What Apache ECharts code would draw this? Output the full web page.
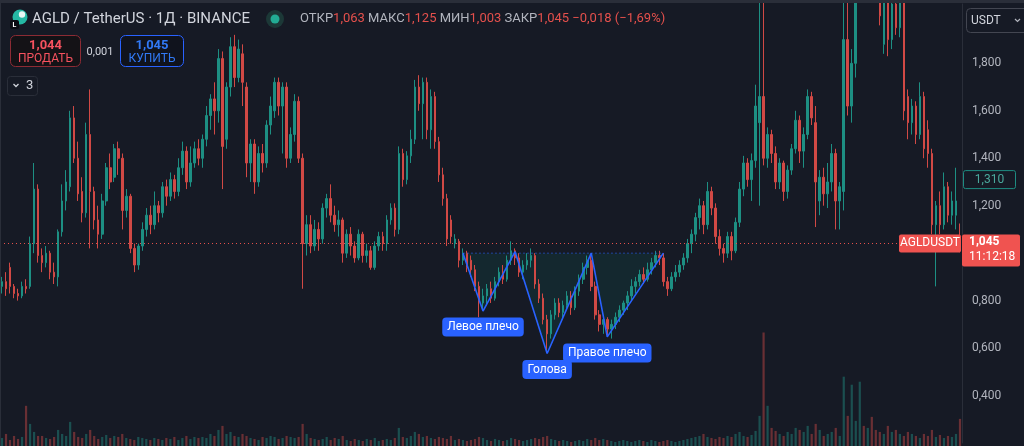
<!DOCTYPE html>
<html><head><meta charset="utf-8">
<script src="https://cdn.jsdelivr.net/npm/echarts/dist/echarts.min.js"></script>
<style>html,body{margin:0;padding:0;background:#161a25;overflow:hidden}#c{width:1024px;height:446px}</style>
</head><body><div id="c"></div>
<script>
// ---- data: daily candles [open, close, low, high] ----
const ohlc = [
[0.86,0.88,0.83,0.90],[0.88,0.85,0.82,0.92],[0.94,0.86,0.83,0.96],[0.86,0.83,0.81,0.87],[0.83,0.82,0.80,0.85],
[0.82,0.86,0.81,0.88],[0.86,0.85,0.83,0.89],[0.86,1.04,0.85,1.07],[1.04,1.27,1.00,1.38],[1.27,0.99,0.96,1.29],
[0.99,0.96,0.92,1.02],[0.96,1.00,0.94,1.03],[1.00,0.92,0.89,1.01],[0.92,0.90,0.87,0.96],[0.90,1.09,0.86,1.10],
[1.09,1.22,1.07,1.29],[1.22,1.30,1.18,1.35],[1.28,1.57,1.26,1.60],[1.57,1.40,1.38,1.62],[1.40,1.25,1.22,1.47],
[1.26,1.17,1.13,1.32],[1.17,1.50,1.15,1.55],[1.50,1.26,1.02,1.69],[1.26,1.14,1.10,1.28],[1.14,1.08,1.02,1.20],
[1.08,1.22,1.06,1.25],[1.22,1.36,1.20,1.38],[1.36,1.30,1.27,1.42],[1.32,1.44,1.30,1.46],[1.44,1.40,1.33,1.47],
[1.40,1.18,1.10,1.42],[1.18,1.24,1.15,1.27],[1.24,1.02,1.00,1.25],[1.02,0.95,0.92,1.04],[0.95,1.03,0.93,1.04],
[1.03,1.10,1.01,1.13],[1.10,1.16,1.07,1.19],[1.16,1.12,1.08,1.20],[1.12,1.20,1.10,1.26],[1.20,1.17,1.13,1.22],
[1.17,1.28,1.15,1.30],[1.28,1.24,1.20,1.31],[1.24,1.31,1.22,1.34],[1.31,1.26,1.23,1.33],[1.26,1.36,1.24,1.40],
[1.36,1.43,1.33,1.47],[1.43,1.30,1.27,1.45],[1.30,1.38,1.28,1.45],[1.38,1.44,1.36,1.47],[1.44,1.40,1.37,1.48],
[1.40,1.48,1.36,1.50],[1.48,1.58,1.45,1.62],[1.58,1.65,1.52,1.67],[1.65,1.60,1.50,1.72],[1.60,1.82,1.55,1.86],
[1.82,1.45,1.27,1.85],[1.48,1.70,1.44,1.72],[1.70,1.87,1.66,1.91],[1.87,1.74,1.70,1.92],[1.74,1.86,1.72,1.90],
[1.84,1.72,1.62,1.88],[1.70,1.38,1.32,1.72],[1.38,1.46,1.30,1.48],[1.46,1.30,1.25,1.48],[1.30,1.42,1.28,1.45],
[1.42,1.38,1.34,1.46],[1.38,1.54,1.36,1.56],[1.54,1.62,1.50,1.66],[1.60,1.72,1.57,1.74],[1.72,1.62,1.58,1.74],
[1.62,1.70,1.42,1.72],[1.70,1.40,1.36,1.72],[1.40,1.50,1.38,1.53],[1.50,1.64,1.47,1.67],[1.64,1.40,1.38,1.66],
[1.40,1.04,0.85,1.42],[1.04,1.12,0.99,1.16],[1.12,1.03,1.00,1.16],[1.03,1.10,1.01,1.14],[1.10,1.06,1.01,1.13],
[1.06,1.19,1.04,1.21],[1.19,1.23,1.15,1.25],[1.23,1.16,1.13,1.29],[1.16,1.12,1.09,1.20],[1.12,1.14,1.07,1.18],
[1.14,1.00,0.96,1.15],[1.00,1.08,0.98,1.10],[1.08,1.03,0.99,1.11],[1.03,0.98,0.96,1.05],[0.98,1.08,0.97,1.10],
[1.08,0.99,0.96,1.09],[0.99,1.01,0.96,1.04],[1.01,0.94,0.93,1.03],[0.94,1.03,0.93,1.05],[1.03,1.07,1.01,1.09],
[1.07,1.04,1.01,1.09],[1.04,1.14,1.01,1.16],[1.14,1.19,1.12,1.21],[1.19,1.10,1.07,1.21],[1.10,1.42,1.08,1.45],
[1.42,1.31,1.28,1.44],[1.31,1.41,1.29,1.43],[1.41,1.48,1.38,1.52],[1.48,1.70,1.46,1.73],[1.70,1.63,1.60,1.75],
[1.63,1.72,1.48,1.74],[1.72,1.52,1.48,1.74],[1.52,1.66,1.44,1.69],[1.66,1.47,1.44,1.68],[1.47,1.33,1.30,1.49],
[1.33,1.23,1.20,1.36],[1.23,1.06,1.03,1.25],[1.14,1.07,1.04,1.16],[1.04,1.06,1.02,1.08],[1.05,0.97,0.94,1.06],
[0.97,1.00,0.95,1.02],[1.00,0.94,0.92,1.01],[0.97,0.93,0.90,0.99],[0.93,0.86,0.84,0.95],[0.86,0.80,0.73,0.88],
[0.79,0.82,0.76,0.85],[0.82,0.85,0.78,0.87],[0.85,0.81,0.79,0.88],[0.81,0.88,0.80,0.90],[0.88,0.92,0.86,0.94],
[0.92,0.89,0.87,0.95],[0.89,0.97,0.88,0.99],[0.97,1.01,0.95,1.05],[1.01,0.98,0.95,1.02],[0.98,0.92,0.90,1.00],
[0.92,0.95,0.89,0.97],[0.95,0.97,0.93,1.00],[0.97,0.99,0.94,1.02],[0.99,0.87,0.85,1.00],[0.87,0.81,0.79,0.89],
[0.81,0.72,0.70,0.83],[0.72,0.66,0.58,0.74],[0.66,0.74,0.64,0.76],[0.74,0.79,0.72,0.81],[0.79,0.75,0.73,0.81],
[0.75,0.78,0.72,0.80],[0.78,0.82,0.76,0.84],[0.82,0.77,0.74,0.84],[0.77,0.84,0.76,0.86],[0.84,0.89,0.82,0.91],
[0.89,0.94,0.87,0.96],[0.94,0.97,0.91,0.99],[0.97,0.86,0.84,0.99],[0.86,0.74,0.72,0.88],[0.74,0.70,0.67,0.76],
[0.70,0.72,0.66,0.74],[0.72,0.68,0.65,0.73],[0.68,0.70,0.64,0.72],[0.70,0.73,0.68,0.75],[0.73,0.76,0.71,0.78],
[0.76,0.79,0.74,0.80],[0.79,0.82,0.76,0.84],[0.82,0.86,0.80,0.89],[0.86,0.88,0.83,0.90],[0.88,0.91,0.86,0.93],
[0.91,0.89,0.87,0.94],[0.89,0.93,0.88,0.96],[0.93,0.96,0.91,0.98],[0.96,0.99,0.94,1.01],[0.99,0.98,0.95,1.01],
[0.98,0.88,0.86,1.00],[0.88,0.85,0.82,0.90],[0.85,0.90,0.84,0.92],[0.90,0.92,0.88,0.95],[0.92,0.95,0.90,0.97],
[0.95,0.98,0.93,1.00],[0.98,1.04,0.96,1.06],[1.04,1.08,1.00,1.10],[1.08,1.15,1.05,1.17],[1.15,1.20,1.10,1.23],
[1.20,1.12,1.08,1.22],[1.12,1.26,1.10,1.30],[1.26,1.19,1.16,1.28],[1.19,1.07,1.04,1.21],[1.07,1.02,0.99,1.10],
[1.02,1.00,0.96,1.04],[1.00,1.07,0.98,1.09],[1.07,1.01,0.97,1.09],[1.01,1.13,1.00,1.15],[1.13,1.27,1.11,1.30],
[1.27,1.38,1.24,1.41],[1.38,1.31,1.28,1.40],[1.31,1.39,1.22,1.42],[1.39,1.62,1.36,1.71],[1.55,1.66,1.20,2.10],
[1.66,1.40,1.37,2.08],[1.40,1.50,1.36,1.53],[1.50,1.42,1.38,1.52],[1.42,1.30,1.27,1.45],[1.30,1.38,1.27,1.40],
[1.38,1.26,1.22,1.39],[1.26,1.35,1.23,1.37],[1.35,1.44,1.33,1.46],[1.44,1.56,1.42,1.60],[1.56,1.43,1.38,1.58],
[1.43,1.50,1.36,1.53],[1.50,1.66,1.48,1.69],[1.66,1.57,1.54,1.68],[1.55,1.30,1.11,1.62],[1.22,1.32,1.16,1.35],
[1.32,1.25,1.20,1.36],[1.25,1.30,1.19,1.38],[1.30,1.42,1.26,1.46],[1.42,1.22,1.10,1.44],[1.22,1.28,1.10,1.30],
[1.26,1.90,1.18,2.10],[1.90,1.62,1.58,2.10],[1.62,1.80,1.55,1.86],[1.80,2.10,1.74,2.25],[2.10,2.25,2.08,2.35],
[2.25,2.18,2.10,2.40],[2.18,2.30,2.12,2.45],[2.30,2.22,2.12,2.38],[2.22,2.15,2.08,2.30],[2.15,2.00,1.96,2.25],
[1.88,2.08,1.84,2.20],[2.08,1.90,1.83,2.15],[1.90,2.05,1.86,2.12],[2.05,1.95,1.92,2.10],[1.95,2.06,1.91,2.12],
[2.06,1.60,1.56,2.10],[1.66,1.55,1.48,1.69],[1.55,1.62,1.50,1.65],[1.62,1.50,1.46,1.64],[1.50,1.66,1.48,1.72],
[1.66,1.44,1.40,1.68],[1.52,1.42,1.36,1.56],[1.42,1.12,1.08,1.44],[1.12,1.20,0.86,1.22],[1.20,1.12,1.08,1.26],
[1.12,1.28,1.10,1.34],[1.28,1.16,1.13,1.30],[1.16,1.22,1.12,1.26],[1.16,1.22,1.10,1.36],[1.063,1.045,1.003,1.125]
];
const volumes = [
8,12,6,10,7,9,40,22,14,10, 10,8,7,9,16,12,10,24,14,9, 8,12,16,10,7,9,11,8,10,9, 12,8,7,6,9,8,7,6,8,7,
6,8,7,9,6,8,10,7,9,8, 9,8,12,10,16,20,12,14,10,9, 12,10,8,7,6,9,8,10,9,7, 8,10,9,8,9,22,12,8,7,6,
7,9,6,8,7,10,6,5,7,6, 5,7,6,8,5,6,7,6,8,18, 9,8,10,14,12,9,10,8,7,9, 8,7,10,6,7,6,5,6,7,9,
8,6,5,7,6,5,6,8,7,6, 5,6,7,8,7,9,10,7,6,5, 6,5,4,5,6,5,7,6,8,6, 7,6,5,4,5,6,5,4,5,6,
5,4,6,5,4,5,6,5,4,5, 6,7,8,9,10,12,9,8,7,9, 8,10,9,12,14,10,9,11,15,30, 113,40,18,15,12,10,14,12,18,16,
14,20,12,22,16,10,12,14,18,10, 69,30,61,25,64,20,18,29,16,14, 12,20,14,16,12,10,14,12,10,8, 12,10,16,9,11,8,10,9,12,27
];
// inverse head & shoulders pattern (candle index, price)
const patternIdx = [115, 120, 128, 136, 147, 151, 165];
const patternPrice = [1.00, 0.756, 1.006, 0.577, 1.00, 0.647, 1.00];
const patternLabels = ['', 'Левое плечо', '', 'Голова', '', 'Правое плечо', ''];
const neckline = 1.00;
// price axis ticks
const yMin = 0.2, yMax = 2.05, yStep = 0.2;
// quote info
const symbolTitle = 'AGLD / TetherUS · 1Д · BINANCE';
const bidPrice = 1.044, askPrice = 1.045, spread = 0.001;
const markerPrice = 1.31;
const countdown = '11:12:18';
const tickerName = 'AGLDUSDT';

const FONT = 'Roboto, "Noto Sans", sans-serif';
const UP = '#1d8f83', DOWN = '#d14945';
const fmt = v => v.toFixed(3).replace('.', ',');
const cats = ohlc.map((_, i) => String(i));
const last = ohlc[ohlc.length - 1];

const chart = echarts.init(document.getElementById('c'));
chart.setOption({
  backgroundColor: '#161a25',
  animation: false,
  grid: [
    { left: 0, right: 62, top: 4, bottom: 3 },
    { left: 0, right: 62, top: 4, bottom: 0 }
  ],
  xAxis: [
    { type: 'category', data: cats, gridIndex: 0, show: false, boundaryGap: true },
    { type: 'category', data: cats, gridIndex: 1, show: false, boundaryGap: true }
  ],
  yAxis: [
    { type: 'value', gridIndex: 0, position: 'right', min: yMin, max: yMax, interval: yStep,
      axisLine: { show: true, lineStyle: { color: '#2a2e39' } }, axisTick: { show: false },
      splitLine: { show: false },
      axisLabel: { color: '#b2b5be', fontSize: 12, fontFamily: FONT, margin: 10,
        showMinLabel: false, showMaxLabel: false, formatter: fmt } },
    { type: 'value', gridIndex: 1, min: 0, max: 440, show: false, splitLine: { show: false } }
  ],
  series: [
    { type: 'bar', xAxisIndex: 1, yAxisIndex: 1, barWidth: '55%', silent: true, z: 1,
      data: volumes.map((v, i) => ({ value: v, itemStyle: { color: ohlc[i][1] >= ohlc[i][0] ? 'rgba(34,160,144,0.4)' : 'rgba(229,80,76,0.4)' } })) },
    { type: 'line', xAxisIndex: 0, yAxisIndex: 0, silent: true, z: 1, symbol: 'none',
      data: patternIdx.map((x, k) => [x, patternPrice[k]]),
      lineStyle: { width: 0 }, areaStyle: { origin: neckline, color: 'rgba(8,153,129,0.17)' } },
    { type: 'candlestick', xAxisIndex: 0, yAxisIndex: 0, barWidth: '52%', z: 2, clip: true,
      data: ohlc,
      itemStyle: { color: UP, color0: DOWN, borderColor: UP, borderColor0: DOWN, borderWidth: 1 },
      markLine: { silent: true, symbol: 'none', animation: false,
        lineStyle: { type: [1, 3], color: '#e5504c', width: 1 }, label: { show: false },
        data: [{ yAxis: last[1] }] } },
    { type: 'line', xAxisIndex: 0, yAxisIndex: 0, silent: true, z: 4, symbol: 'none',
      data: [[patternIdx[0], neckline], [patternIdx[patternIdx.length - 1], neckline]],
      lineStyle: { type: [2, 2], color: 'rgba(41,98,255,0.55)', width: 1 } },
    { type: 'line', xAxisIndex: 0, yAxisIndex: 0, silent: true, z: 5,
      symbol: 'circle', symbolSize: 1, showSymbol: true,
      itemStyle: { color: 'rgba(0,0,0,0)' },
      lineStyle: { color: '#2962ff', width: 1.6 },
      data: patternIdx.map((x, k) => ({
        value: [x, patternPrice[k]],
        label: patternLabels[k] ? {
          show: true, position: 'bottom', distance: 6, formatter: patternLabels[k],
          color: '#ffffff', fontSize: 12, fontFamily: FONT, backgroundColor: '#2962ff',
          padding: [3, 5, 3, 5], borderRadius: 4, lineHeight: 13
        } : { show: false }
      })) }
  ]
});

const py = chart.convertToPixel({ yAxisIndex: 0 }, last[1]);
const my = chart.convertToPixel({ yAxisIndex: 0 }, markerPrice);
const chg = last[1] - last[0];
const pct = chg / last[0] * 100;
const sgn = (v, d) => (v < 0 ? '−' : '+') + Math.abs(v).toFixed(d).replace('.', ',');
const g = [];
const t = (x, y, text, fill, font, align, z) => ({ type: 'text', x, y, z: z || 110,
  style: { text, fill, font, align: align || 'left', verticalAlign: 'middle' } });
g.push({ type: 'rect', z: 100, shape: { x: 0, y: 0, width: 1024, height: 3 }, style: { fill: '#2a2e39' } });
g.push({ type: 'rect', z: 100, shape: { x: 0, y: 3, width: 1, height: 443 }, style: { fill: '#2a2e39' } });
// logo
g.push({ type: 'circle', z: 100, shape: { cx: 20, cy: 17, r: 7.5 }, style: { fill: '#25b8a4' } });
g.push({ type: 'circle', z: 101, shape: { cx: 22, cy: 14.5, r: 3.2 }, style: { fill: '#e9f7f4' } });
g.push({ type: 'rect', z: 102, shape: { x: 10, y: 20, width: 9, height: 9, r: 2 }, style: { fill: '#0b0d13' } });
g.push(t(14.5, 24.8, 'L', '#ffffff', 'bold 7px ' + FONT, 'center', 103));
g.push(t(32, 19, symbolTitle, '#d1d4dc', '15px ' + FONT));
g.push({ type: 'circle', z: 100, shape: { cx: 275, cy: 19, r: 9 }, style: { fill: '#1c3837' } });
g.push({ type: 'circle', z: 101, shape: { cx: 275, cy: 19, r: 4.5 }, style: { fill: '#22ab94' } });
g.push({ type: 'text', x: 300, y: 19, z: 110, style: {
  text: `{g|ОТКР}{r|${fmt(last[0])}} {g|МАКС}{r|${fmt(last[3])}} {g|МИН}{r|${fmt(last[2])}} {g|ЗАКР}{r|${fmt(last[1])}} {r|${sgn(chg, 3)} (${sgn(pct, 2)}%)}`,
  verticalAlign: 'middle', font: '13px ' + FONT,
  rich: { g: { fill: '#b2b5be', font: '13px ' + FONT }, r: { fill: '#e5504c', font: '13px ' + FONT } } } });
// sell / buy
g.push({ type: 'rect', z: 100, shape: { x: 10.5, y: 35.5, width: 70, height: 31, r: 5 }, style: { fill: '#141216', stroke: '#8c2b34', lineWidth: 1 } });
g.push(t(45.5, 45.5, fmt(bidPrice), '#f7525f', 'bold 13px ' + FONT, 'center'));
g.push(t(45.5, 58.5, 'ПРОДАТЬ', '#f7525f', '12px ' + FONT, 'center'));
g.push(t(100, 52, fmt(spread), '#d1d4dc', '11px ' + FONT, 'center'));
g.push({ type: 'rect', z: 100, shape: { x: 120.5, y: 35.5, width: 63, height: 31, r: 5 }, style: { fill: '#10131d', stroke: '#2962ff', lineWidth: 1 } });
g.push(t(152, 45.5, fmt(askPrice), '#3179f5', 'bold 13px ' + FONT, 'center'));
g.push(t(152, 58.5, 'КУПИТЬ', '#3179f5', '12px ' + FONT, 'center'));
// indicator collapse button
g.push({ type: 'rect', z: 100, shape: { x: 7.5, y: 76.5, width: 30, height: 19, r: 3 }, style: { fill: '#161a25', stroke: '#2a2e39', lineWidth: 1 } });
g.push({ type: 'polyline', z: 110, shape: { points: [[13.5, 84], [16, 86.5], [18.5, 84]] }, style: { stroke: '#d1d4dc', lineWidth: 1.3, fill: null } });
g.push(t(26, 86, '3', '#d1d4dc', '13px ' + FONT));
// currency button
g.push({ type: 'rect', z: 100, shape: { x: 966.5, y: 8.5, width: 62, height: 24, r: 4 }, style: { fill: '#161a25', stroke: '#434651', lineWidth: 1 } });
g.push(t(971, 20.5, 'USDT', '#d1d4dc', '12px ' + FONT));
g.push({ type: 'polyline', z: 110, shape: { points: [[1015, 19], [1017.5, 21.5], [1020, 19]] }, style: { stroke: '#b2b5be', lineWidth: 1.2, fill: null } });
// marker price box
g.push({ type: 'rect', z: 100, shape: { x: 963.5, y: my - 9, width: 52, height: 18, r: 2 }, style: { fill: '#161a25', stroke: '#1e8c82', lineWidth: 1 } });
g.push(t(989.5, my, fmt(markerPrice), '#4aa89c', '12px ' + FONT, 'center'));
// last price labels
g.push({ type: 'rect', z: 100, shape: { x: 899, y: py - 8, width: 62, height: 18, r: 2 }, style: { fill: '#f05350' } });
g.push(t(930, py + 1, tickerName, '#ffffff', '12px ' + FONT, 'center'));
g.push({ type: 'rect', z: 100, shape: { x: 962, y: py - 8, width: 58, height: 32, r: 2 }, style: { fill: '#f05350' } });
g.push(t(969, py, fmt(last[1]), '#ffffff', 'bold 12px ' + FONT));
g.push(t(969, py + 15, countdown, '#ffffff', '12px ' + FONT));
chart.setOption({ graphic: { elements: g } });
</script>
</body></html>
